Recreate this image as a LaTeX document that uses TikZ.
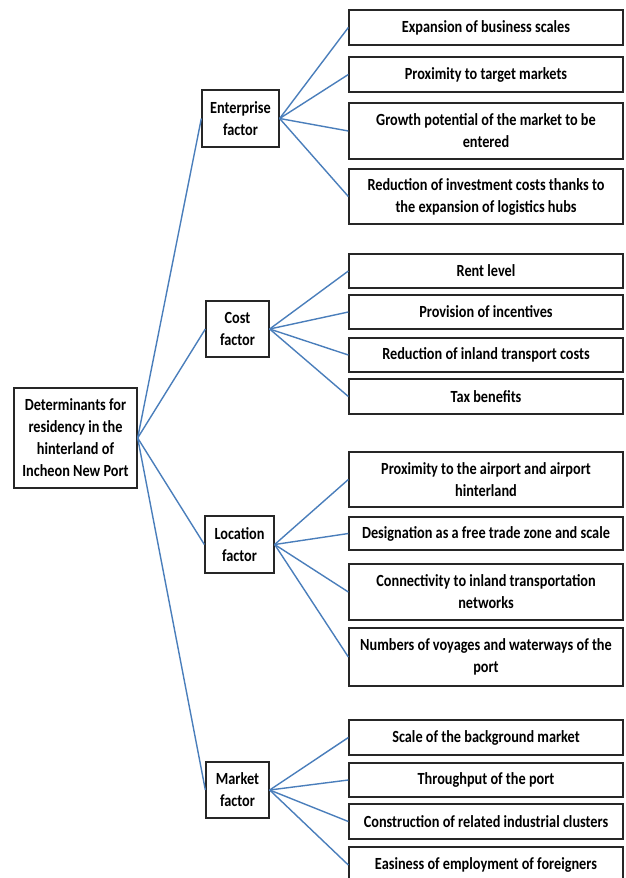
\documentclass[tikz,border=0pt]{standalone}
\usepackage{fontspec}
\setmainfont{Carlito}[FakeStretch=0.84]
\definecolor{linkblue}{HTML}{4A7EBB}
\definecolor{boxline}{HTML}{262626}
\tikzset{
  box/.style={draw=boxline, line width=1.3pt, fill=white, align=center, inner sep=0pt,
    font=\fontsize{17}{22}\selectfont\bfseries},
  leaf/.style={box, minimum width=274pt},
  link/.style={draw=linkblue, line width=1.4pt}
}
\begin{document}
\begin{tikzpicture}[x=1pt,y=-1pt]
\useasboundingbox (0,0) rectangle (626,878);
% root
\node[box, minimum width=123pt, minimum height=100pt] (root) at (75.5,438)
  {Determinants for\\residency in the\\hinterland of\\Incheon New Port};
% factors
\node[box, minimum width=77pt, minimum height=57pt] (ent) at (240.5,118.5) {Enterprise\\factor};
\node[box, minimum width=63pt, minimum height=56pt] (cost) at (237.5,329) {Cost\\factor};
\node[box, minimum width=69pt, minimum height=57pt] (loc) at (239.5,544.5) {Location\\factor};
\node[box, minimum width=63pt, minimum height=56pt] (mkt) at (237.5,790) {Market\\factor};
% enterprise leaves
\node[leaf, minimum height=35pt] (e1) at (486,27.5) {Expansion of business scales};
\node[leaf, minimum height=35pt] (e2) at (486,74.5) {Proximity to target markets};
\node[leaf, minimum height=56pt] (e3) at (486,131) {Growth potential of the market to be\\entered};
\node[leaf, minimum height=55pt] (e4) at (486,196.5) {Reduction of investment costs thanks to\\the expansion of logistics hubs};
% cost leaves
\node[leaf, minimum height=34pt] (c1) at (486,271) {Rent level};
\node[leaf, minimum height=34pt] (c2) at (486,312) {Provision of incentives};
\node[leaf, minimum height=34pt] (c3) at (486,355) {Reduction of inland transport costs};
\node[leaf, minimum height=35pt] (c4) at (486,396.5) {Tax benefits};
% location leaves
\node[leaf, minimum height=55pt] (l1) at (486,479.5) {Proximity to the airport and airport\\hinterland};
\node[leaf, minimum height=33pt] (l2) at (486,533.5) {Designation as a free trade zone and scale};
\node[leaf, minimum height=56pt] (l3) at (486,592) {Connectivity to inland transportation\\networks};
\node[leaf, minimum height=58pt] (l4) at (486,657) {Numbers of voyages and waterways of the\\port};
% market leaves
\node[leaf, minimum height=35pt] (m1) at (486,737.5) {Scale of the background market};
\node[leaf, minimum height=34pt] (m2) at (486,780) {Throughput of the port};
\node[leaf, minimum height=35pt] (m3) at (486,821.5) {Construction of related industrial clusters};
\node[leaf, minimum height=36pt] (m4) at (486,865) {Easiness of employment of foreigners};
% connectors
\foreach \f in {ent,cost,loc,mkt} \draw[link] (root.east) -- (\f.west);
\foreach \l in {e1,e2,e3,e4} \draw[link] (ent.east) -- (\l.west);
\foreach \l in {c1,c2,c3,c4} \draw[link] (cost.east) -- (\l.west);
\foreach \l in {l1,l2,l3,l4} \draw[link] (loc.east) -- (\l.west);
\foreach \l in {m1,m2,m3,m4} \draw[link] (mkt.east) -- (\l.west);
\end{tikzpicture}
\end{document}
